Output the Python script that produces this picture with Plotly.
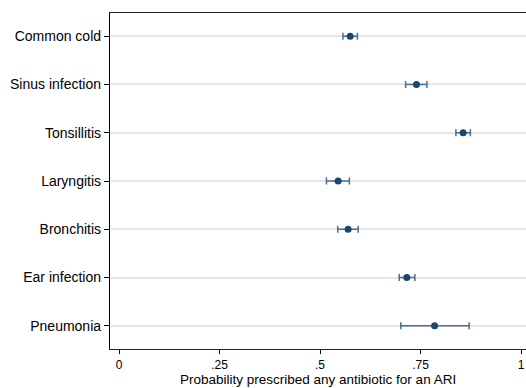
import plotly.graph_objects as go

categories = ["Common cold", "Sinus infection", "Tonsillitis", "Laryngitis",
              "Bronchitis", "Ear infection", "Pneumonia"]
estimate = [0.575, 0.740, 0.856, 0.545, 0.570, 0.716, 0.785]
ci_low = [0.557, 0.713, 0.838, 0.516, 0.544, 0.697, 0.701]
ci_high = [0.593, 0.766, 0.874, 0.573, 0.595, 0.736, 0.871]
x_tickvals = [0, 0.25, 0.5, 0.75, 1]
x_ticktext = ["0", ".25", ".5", ".75", "1"]
x_title = "Probability prescribed any antibiotic for an ARI"

ypos = list(range(1, len(categories) + 1))

fig = go.Figure()
fig.add_trace(go.Scatter(
    x=estimate, y=ypos, mode="markers",
    marker=dict(color="#1a476f", size=7),
    error_x=dict(type="data", symmetric=False,
                 array=[h - e for h, e in zip(ci_high, estimate)],
                 arrayminus=[e - l for e, l in zip(estimate, ci_low)],
                 color="#4a6d92", thickness=1.5, width=3.5),
    showlegend=False,
))

fig.update_layout(
    width=526, height=388,
    margin=dict(l=110, r=0, t=13, b=39),
    paper_bgcolor="white", plot_bgcolor="white",
    font=dict(family="Liberation Sans, Arial, sans-serif", size=14, color="black"),
)
fig.add_annotation(
    text=x_title, xref="paper", yref="paper", x=0.5, y=0,
    xanchor="center", yanchor="bottom", yshift=-39, showarrow=False,
    borderpad=0, font=dict(size=13.5, color="black"),
)
fig.update_xaxes(
    range=[-0.0224, 1.0124], tickvals=x_tickvals, ticktext=x_ticktext,
    showgrid=False, zeroline=False,
    showline=True, linecolor="#222", linewidth=1.3, mirror=True,
    ticks="outside", ticklen=4, tickcolor="black", tickwidth=1,
    tickfont=dict(size=12),
)
fig.update_yaxes(
    range=[7.48, 0.52], tickvals=ypos, ticktext=categories,
    showgrid=True, gridcolor="#e6e6e6", gridwidth=1.5, zeroline=False,
    showline=True, linecolor="black", linewidth=1.3,
    ticks="outside", ticklen=5, tickcolor="black", tickwidth=1,
    tickfont=dict(size=14),
)

fig.write_html("out.html")
